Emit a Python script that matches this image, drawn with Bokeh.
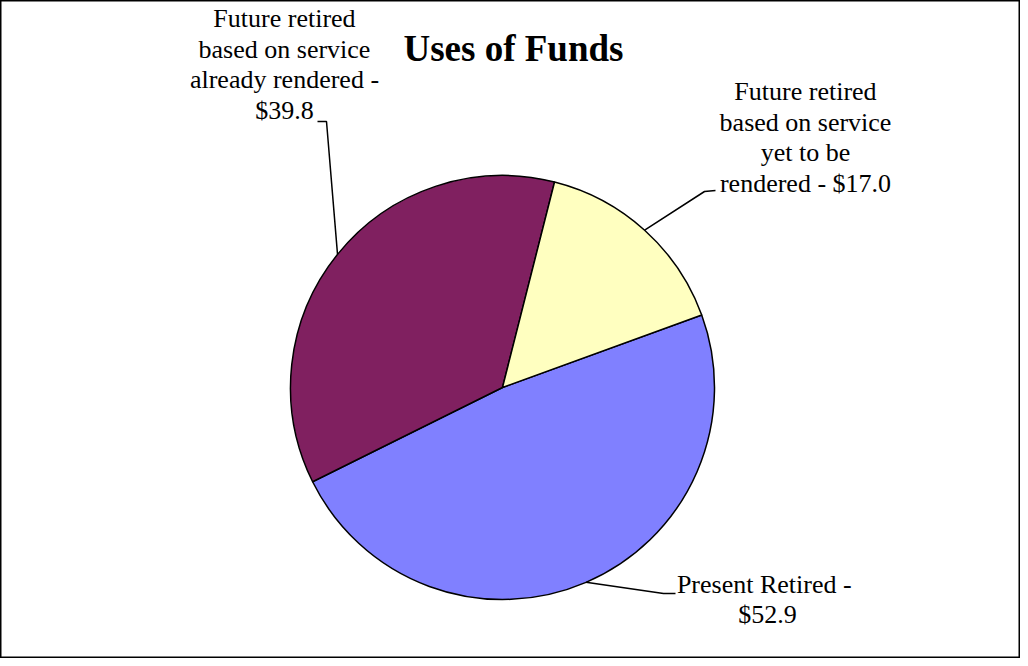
import math
from bokeh.plotting import figure
from bokeh.models import ColumnDataSource
from bokeh.core.properties import value
from bokeh.embed import file_html
from bokeh.resources import INLINE

# ---- data ----
categories = ["Present Retired", "Future retired based on service already rendered",
              "Future retired based on service yet to be rendered"]
amounts = [52.9, 39.8, 17.0]
labels = ["Present Retired  -\n$52.9",
          "Future retired\nbased on service\nalready rendered -\n$39.8",
          "Future retired\nbased on service\nyet to be\nrendered - $17.0"]
colors = ["#8080FF", "#802060", "#FFFFC0"]
title_text = "Uses of Funds"

# ---- layout (pixel-like data units) ----
W, H = 1020, 658
cx, cy, r = 502, 271, 212
first_slice_deg = 70.0  # clockwise from 12 o'clock

label_pos = [(767, 59), (284, 594), (805, 521)]
elbows = [(663, 65), (326, 537), (704, 467)]
ends = [(675, 65), (317, 537), (715, 468)]

total = sum(amounts)
starts, stops, mids = [], [], []
acc = first_slice_deg
for a in amounts:
    span = a / total * 360.0
    s_cw, e_cw = acc, acc + span
    starts.append(math.radians(90 - s_cw))
    stops.append(math.radians(90 - e_cw))
    mids.append(math.radians(90 - (s_cw + e_cw) / 2))
    acc = e_cw

src = ColumnDataSource(dict(start=starts, end=stops, color=colors, cat=categories))

p = figure(width=W, height=H, x_range=(0, W), y_range=(0, H),
           output_backend="svg", toolbar_location=None, min_border=0)
p.axis.visible = False
p.grid.visible = False
p.outline_line_color = "black"
p.outline_line_width = 2
p.background_fill_color = "white"
p.border_fill_color = "white"

p.wedge(x=cx, y=cy, radius=r, start_angle="start", end_angle="end",
        direction="clock", fill_color="color", line_color="black",
        line_width=1.5, source=src)

# leader lines
for m, el, en in zip(mids, elbows, ends):
    ax = cx + r * math.cos(m)
    ay = cy + r * math.sin(m)
    p.line([ax, el[0], en[0]], [ay, el[1], en[1]], line_color="black", line_width=1.5)

# labels
p.text(x=[lp[0] for lp in label_pos], y=[lp[1] for lp in label_pos], text=labels,
       text_font=value("Liberation Serif"), text_font_size="26px",
       text_align="center", text_baseline="middle", text_line_height=1.05,
       text_color="black")

p.text(x=[513], y=[610], text=[title_text], text_font=value("Liberation Serif"),
       text_font_size="37px", text_font_style="bold", text_align="center",
       text_baseline="middle", text_color="black")

open("out.html", "w").write(file_html(p, INLINE))
